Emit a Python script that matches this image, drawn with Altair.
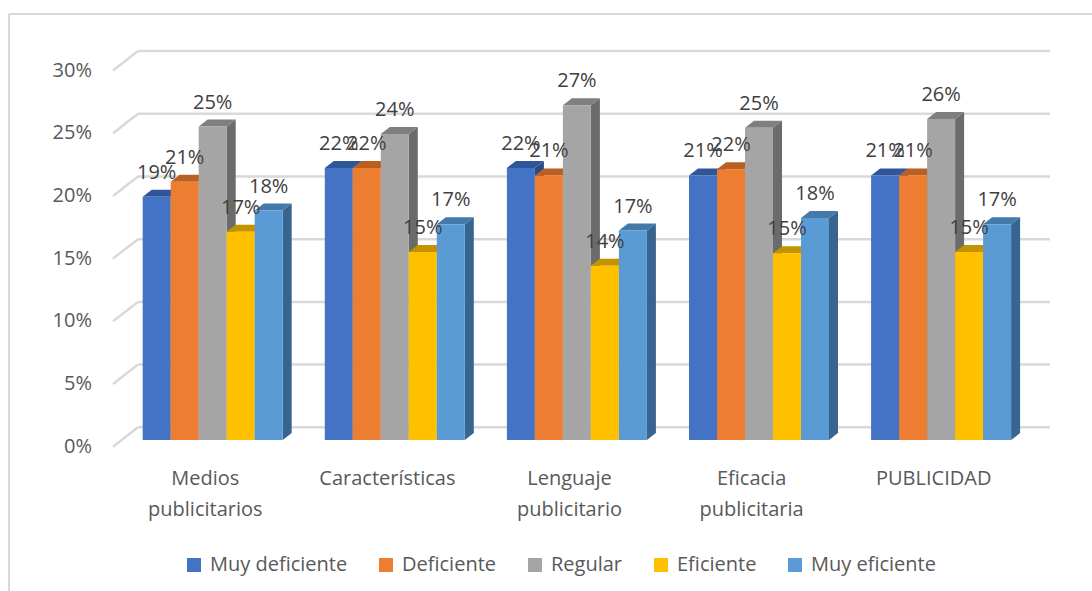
import altair as alt
import pandas as pd

# ---- data ----
categorias = ["Medios publicitarios", "Características", "Lenguaje publicitario",
              "Eficacia publicitaria", "PUBLICIDAD"]
etiquetas_eje = ["Medios\npublicitarios", "Características", "Lenguaje\npublicitario",
                 "Eficacia\npublicitaria", "PUBLICIDAD"]
series = ["Muy deficiente", "Deficiente", "Regular", "Eficiente", "Muy eficiente"]

muy_deficiente = [0.194, 0.217, 0.217, 0.211, 0.211]
deficiente     = [0.206, 0.217, 0.211, 0.216, 0.211]
regular        = [0.250, 0.244, 0.267, 0.249, 0.256]
eficiente      = [0.166, 0.150, 0.139, 0.149, 0.150]
muy_eficiente  = [0.183, 0.172, 0.167, 0.177, 0.172]
valores = [muy_deficiente, deficiente, regular, eficiente, muy_eficiente]

ticks_y = [0.0, 0.05, 0.10, 0.15, 0.20, 0.25, 0.30]

# ---- styling ----
colores = ["#4472C4", "#ED7D31", "#A5A5A5", "#FFC000", "#5B9BD5"]
colores_techo = ["#30569A", "#BA5E22", "#7F7F7F", "#C49300", "#4479AC"]
colores_lado = ["#2A4A84", "#9E4F1C", "#6B6B6B", "#A67C00", "#386590"]
FUENTE = "Open Sans"
GRIS_TEXTO = "#595959"

# ---- layout (one x unit = one category slot, y in fraction of 1) ----
W, H = 1092, 591
PX_GRUPO = 182.1          # pixels per category slot
X0_PX = 142.7             # left edge of the first cluster
ANCHO = 28 / PX_GRUPO     # bar width in slot units
PX_UNIDAD = 1254.0        # pixels per 1.0 (100 %)
Y0_PX = 440.0             # front baseline
PROF_X = 9 / PX_GRUPO     # bar depth, horizontal component
PROF_Y = 7 / PX_UNIDAD    # bar depth, vertical component
FONDO_Y = 12.7 / PX_UNIDAD   # back wall shift
FRENTE_Y = -6.7 / PX_UNIDAD  # front edge of the side wall


def ux(px):
    return (px - X0_PX) / PX_GRUPO


escala_x = alt.Scale(domain=[ux(0), ux(W)], nice=False, zero=False)
escala_y = alt.Scale(domain=[(Y0_PX - H) / PX_UNIDAD, Y0_PX / PX_UNIDAD], nice=False, zero=False)


def X(campo):
    return alt.X(f"{campo}:Q", scale=escala_x, axis=None, stack=None)


def Y(campo):
    return alt.Y(f"{campo}:Q", scale=escala_y, axis=None, stack=None)


# ---- faces of every bar ----
frente, techo, lado = [], [], []
for s, nombre in enumerate(series):
    for g, cat in enumerate(categorias):
        v = valores[s][g]
        x0 = g + s * ANCHO
        x1 = x0 + ANCHO
        bid = f"{s}-{g}"
        frente.append(dict(serie=nombre, s=s, x0=x0, x1=x1, xc=(x0 + x1) / 2,
                           y0=0.0, y1=v, valor=v))
        techo.append(dict(s=s, id=bid, y=v, xa=x0, xb=x1))
        techo.append(dict(s=s, id=bid, y=v + PROF_Y, xa=x0 + PROF_X, xb=x1 + PROF_X))
        lado.append(dict(s=s, id=bid, x=x1, ya=0.0, yb=v))
        lado.append(dict(s=s, id=bid, x=x1 + PROF_X, ya=PROF_Y, yb=v + PROF_Y))

df_frente = pd.DataFrame(frente)
df_techo = pd.DataFrame(techo)
df_lado = pd.DataFrame(lado)

# ---- gridlines on the back wall and their slanted side-wall segments ----
df_grid = pd.DataFrame({"v": ticks_y})
df_grid["gb"] = df_grid["v"] + FONDO_Y
df_grid["gf"] = df_grid["v"] + FRENTE_Y
df_grid["gx0"] = ux(138)
df_grid["gx1"] = ux(1050)
df_grid["fx"] = ux(113)
df_grid["lx"] = ux(92)

grid_h = alt.Chart(df_grid).mark_rule(color="#D9D9D9", strokeWidth=2.5).encode(
    x=X("gx0"), x2="gx1", y=Y("gb"))
grid_s = alt.Chart(df_grid).mark_rule(color="#D9D9D9", strokeWidth=2.5).encode(
    x=X("fx"), x2="gx0", y=Y("gf"), y2="gb")
etiquetas_y = alt.Chart(df_grid).mark_text(
    font=FUENTE, fontSize=20, color=GRIS_TEXTO, align="right", baseline="middle"
).encode(x=X("lx"), y=Y("gf"), text=alt.Text("v:Q", format=".0%"))

# ---- category labels ----
df_cat = pd.DataFrame({
    "etiqueta": etiquetas_eje,
    "cx": [g + 5 * ANCHO / 2 - 7.4 / PX_GRUPO for g in range(len(categorias))],
    "cy": [(Y0_PX - 484.5) / PX_UNIDAD] * len(categorias),
})
etiquetas_x = alt.Chart(df_cat).mark_text(
    font=FUENTE, fontSize=20, color=GRIS_TEXTO, align="center", baseline="alphabetic",
    lineBreak="\n", lineHeight=31
).encode(x=X("cx"), y=Y("cy"), text="etiqueta:N")

# ---- chart frame ----
marco_sup = alt.Chart(df_grid).mark_rule(color="#D9D9D9", strokeWidth=1.5).encode(
    x=alt.value(9), x2=alt.value(W), y=alt.value(14))
marco_izq = alt.Chart(df_grid).mark_rule(color="#D9D9D9", strokeWidth=1.5).encode(
    x=alt.value(9), y=alt.value(14), y2=alt.value(H))

escala_color = alt.Scale(domain=series, range=colores)
leyenda = alt.Legend(
    title=None, orient="none", legendX=184, legendY=555, direction="horizontal",
    symbolType="square", symbolSize=196, symbolStrokeWidth=0, symbolOpacity=1,
    labelFont=FUENTE, labelFontSize=20, labelColor=GRIS_TEXTO, labelOffset=6,
    columnPadding=28, labelLimit=400, padding=0,
)

capas = [marco_sup, marco_izq, grid_h, grid_s, etiquetas_y, etiquetas_x]

# painter's order: clusters are drawn series by series, left to right
for s, nombre in enumerate(series):
    capas.append(
        alt.Chart(df_lado[df_lado.s == s]).mark_area(color=colores_lado[s]).encode(
            x=X("x"), y=Y("ya"), y2="yb", detail="id:N"))
    capas.append(
        alt.Chart(df_techo[df_techo.s == s]).mark_area(
            color=colores_techo[s], orient="horizontal").encode(
            y=Y("y"), x=X("xa"), x2="xb", detail="id:N"))
    capas.append(
        alt.Chart(df_frente[df_frente.s == s]).mark_rect().encode(
            x=X("x0"), x2="x1", y=Y("y0"), y2="y1",
            color=alt.Color("serie:N", scale=escala_color, legend=leyenda)))

rotulos = alt.Chart(df_frente).mark_text(
    font=FUENTE, fontSize=20, color="#404040", align="center", baseline="alphabetic", dy=-18
).encode(x=X("xc"), y=Y("y1"), text=alt.Text("valor:Q", format=".0%"))
capas.append(rotulos)

chart = alt.layer(*capas).properties(
    width=W, height=H, autosize=alt.AutoSizeParams(type="none"), padding=0,
    background="white",
).configure_view(stroke=None)

chart.save("out.html", embed_options={"renderer": "svg", "actions": False})
